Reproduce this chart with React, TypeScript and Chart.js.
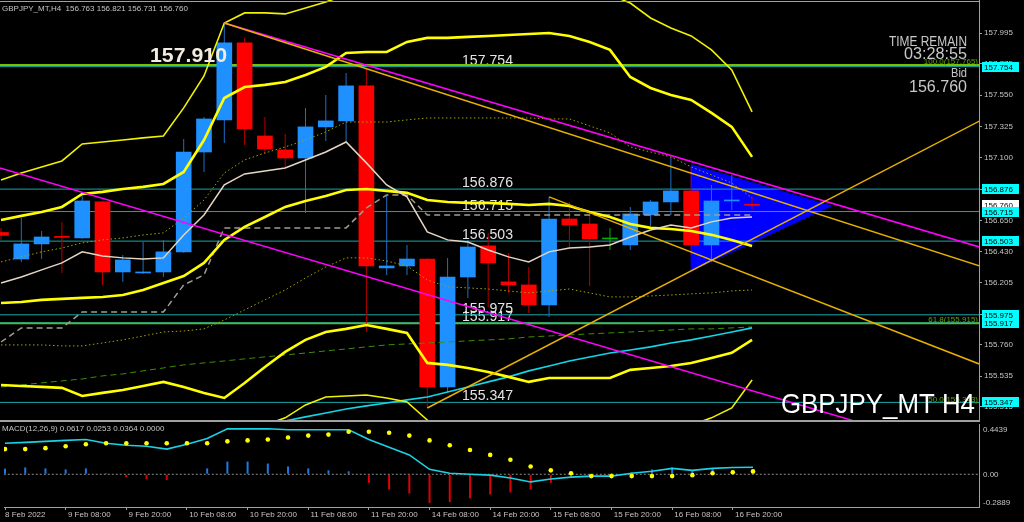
import { useEffect, useRef } from "react";
import { Chart, registerables } from "chart.js";

Chart.register(...registerables);

const FONT = "'Liberation Sans', Arial, sans-serif";

// ---------------- data ----------------
const headerText = "GBPJPY_MT,H4  156.763 156.821 156.731 156.760";
const macdHeaderText = "MACD(12,26,9) 0.0617 0.0253 0.0364 0.0000";
const symbolText = "GBPJPY_MT H4";
const timeRemainLines = ["TIME REMAIN", "03:28:55", "Bid", "156.760"];

const opens = [156.565, 156.375, 156.483, 156.533, 156.526, 156.784, 156.282, 156.275, 156.282, 156.426, 157.142, 157.372, 157.924, 157.257, 157.157, 157.099, 157.322, 157.365, 157.616, 156.311, 156.325, 156.375, 155.458, 156.246, 156.469, 156.211, 156.189, 156.046, 156.662, 156.626, 156.519, 156.476, 156.691, 156.784, 156.863, 156.476, 156.791, 156.763];
const highs = [156.598, 156.669, 156.576, 156.641, 156.827, 156.790, 156.404, 156.497, 156.512, 157.236, 157.393, 158.067, 157.960, 157.393, 157.271, 157.458, 157.551, 157.709, 157.745, 156.834, 156.476, 156.380, 156.383, 156.512, 156.562, 156.418, 156.318, 156.820, 156.784, 156.691, 156.598, 156.748, 156.798, 157.107, 157.035, 156.906, 156.978, 156.821];
const lows = [156.512, 156.354, 156.375, 156.275, 156.520, 156.189, 156.211, 156.268, 156.246, 156.420, 156.999, 157.207, 157.193, 157.128, 157.028, 156.705, 157.221, 157.214, 155.852, 156.261, 156.261, 155.307, 155.422, 156.096, 156.031, 156.132, 155.988, 155.960, 156.461, 156.182, 156.440, 156.440, 156.612, 156.691, 156.404, 156.354, 156.727, 156.731];
const closes = [156.544, 156.483, 156.533, 156.530, 156.791, 156.282, 156.368, 156.282, 156.426, 157.142, 157.379, 157.924, 157.307, 157.164, 157.099, 157.322, 157.365, 157.616, 156.325, 156.325, 156.375, 155.458, 156.246, 156.461, 156.347, 156.189, 156.046, 156.662, 156.619, 156.519, 156.519, 156.698, 156.784, 156.863, 156.476, 156.791, 156.798, 156.760];

const bandOuterUpper = [156.942, 156.992, 157.035, 157.078, 157.200, 157.214, 157.228, 157.243, 157.257, 157.458, 157.687, 158.067, 158.139, 158.139, 158.132, 158.175, 158.218, 158.268, 158.340, 158.411, 158.447, 158.483, 158.504, 158.519, 158.519, 158.519, 158.504, 158.483, 158.411, 158.340, 158.268, 158.210, 158.103, 158.031, 157.974, 157.874, 157.730, 157.429];
const bandUpper = [156.655, 156.684, 156.712, 156.748, 156.841, 156.856, 156.877, 156.892, 156.913, 156.999, 157.228, 157.529, 157.608, 157.623, 157.644, 157.694, 157.752, 157.852, 157.859, 157.859, 157.931, 157.960, 157.960, 157.967, 157.974, 157.981, 157.988, 157.995, 157.974, 157.931, 157.874, 157.680, 157.601, 157.551, 157.515, 157.422, 157.322, 157.107];
const bandMiddle = [156.060, 156.067, 156.082, 156.089, 156.096, 156.103, 156.117, 156.153, 156.203, 156.253, 156.347, 156.512, 156.605, 156.676, 156.748, 156.791, 156.827, 156.870, 156.877, 156.863, 156.849, 156.798, 156.784, 156.777, 156.777, 156.770, 156.762, 156.770, 156.755, 156.712, 156.676, 156.626, 156.598, 156.590, 156.576, 156.548, 156.512, 156.469];
const bandLower = [155.472, 155.465, 155.458, 155.451, 155.393, 155.415, 155.436, 155.465, 155.494, 155.458, 155.415, 155.379, 155.486, 155.601, 155.709, 155.795, 155.852, 155.874, 155.902, 155.874, 155.845, 155.630, 155.616, 155.594, 155.565, 155.530, 155.494, 155.522, 155.522, 155.522, 155.522, 155.580, 155.594, 155.608, 155.630, 155.666, 155.702, 155.795];
const bandOuterLower = [155.006, 155.006, 155.006, 155.006, 154.999, 155.006, 155.013, 155.020, 155.035, 155.042, 155.056, 155.078, 155.150, 155.185, 155.236, 155.329, 155.386, 155.393, 155.400, 155.379, 155.350, 155.221, 155.078, 154.970, 154.934, 154.899, 154.899, 154.920, 154.934, 154.970, 155.006, 155.042, 155.078, 155.135, 155.185, 155.236, 155.307, 155.508];
const fastMa = [156.203, 156.246, 156.297, 156.347, 156.426, 156.397, 156.383, 156.375, 156.383, 156.547, 156.691, 156.906, 156.985, 157.006, 157.028, 157.085, 157.142, 157.214, 157.064, 156.906, 156.820, 156.569, 156.512, 156.497, 156.440, 156.390, 156.354, 156.426, 156.454, 156.461, 156.476, 156.533, 156.583, 156.619, 156.598, 156.641, 156.669, 156.676];
const dottedUpper = [156.354, 156.390, 156.426, 156.454, 156.490, 156.512, 156.526, 156.547, 156.562, 156.669, 156.798, 156.992, 157.085, 157.135, 157.178, 157.228, 157.286, 157.357, 157.357, 157.357, 157.372, 157.386, 157.386, 157.386, 157.386, 157.386, 157.386, 157.379, 157.379, 157.329, 157.279, 157.178, 157.142, 157.107, 157.035, 156.978, 156.920, 156.813];
const dottedLower = [155.759, 155.759, 155.759, 155.752, 155.752, 155.773, 155.795, 155.823, 155.852, 155.859, 155.874, 155.938, 156.010, 156.082, 156.153, 156.239, 156.318, 156.383, 156.383, 156.361, 156.325, 156.225, 156.175, 156.168, 156.160, 156.146, 156.132, 156.146, 156.160, 156.132, 156.103, 156.103, 156.110, 156.117, 156.125, 156.132, 156.146, 156.153];
const stepLine = [155.780, 155.881, 155.881, 155.881, 155.995, 155.995, 155.995, 155.995, 155.995, 156.189, 156.261, 156.598, 156.598, 156.598, 156.598, 156.598, 156.598, 156.598, 156.741, 156.834, 156.834, 156.691, 156.691, 156.691, 156.691, 156.691, 156.691, 156.691, 156.691, 156.691, 156.691, 156.691, 156.691, 156.691, 156.691, 156.691, 156.691, 156.691];
const slowMa = [155.458, 155.472, 155.487, 155.501, 155.515, 155.537, 155.551, 155.573, 155.594, 155.616, 155.630, 155.644, 155.659, 155.673, 155.687, 155.701, 155.716, 155.730, 155.745, 155.759, 155.766, 155.773, 155.780, 155.788, 155.795, 155.802, 155.816, 155.823, 155.831, 155.838, 155.845, 155.852, 155.859, 155.866, 155.874, 155.874, 155.881, 155.888];
const cyanMa = [154.863, 154.884, 154.906, 154.927, 154.949, 154.970, 154.992, 155.013, 155.035, 155.056, 155.099, 155.128, 155.157, 155.185, 155.214, 155.243, 155.271, 155.300, 155.322, 155.343, 155.365, 155.386, 155.422, 155.458, 155.494, 155.530, 155.573, 155.608, 155.644, 155.673, 155.701, 155.723, 155.745, 155.773, 155.795, 155.823, 155.852, 155.881];

// trend lines: [bar, price] anchor pairs
const magentaUpperX = [11, 48.2];
const magentaUpperY = [158.067, 156.461];
const magentaLowerX = [-0.05, 48.2];
const magentaLowerY = [157.027, 154.948];
const orangeUpperX = [11, 48.2];
const orangeUpperY = [158.067, 156.325];
const orangeLowerX = [27, 48.2];
const orangeLowerY = [156.820, 155.622];
const orangeRiseX = [21, 48.2];
const orangeRiseY = [155.307, 157.364];
const triangleX = [34, 40.9, 34, 34];
const triangleY = [157.05, 156.755, 156.29, 157.05];

const cyanLevels = [157.754, 156.876, 156.715, 156.503, 155.975, 155.917, 155.347];
const fibLineLevels = [157.765, 155.915];
const fibLabelLevels = [157.765, 155.915, 155.343];
const fibLabels = ["100.0(157.765)", "61.8(155.915)", "50.0(155.343)"];
const bidPrice = 156.76;
const highMark = 157.91;

const priceTicks = [157.995, 157.775, 157.55, 157.325, 157.1, 156.875, 156.65, 156.43, 156.205, 155.98, 155.76, 155.535, 155.315];
const xTickBars = [0, 3, 6, 9, 12, 15, 18, 21, 24, 27, 30, 33, 36];
const xTickLabels = ["8 Feb 2022", "9 Feb 08:00", "9 Feb 20:00", "10 Feb 08:00", "10 Feb 20:00", "11 Feb 08:00", "11 Feb 20:00", "14 Feb 08:00", "14 Feb 20:00", "15 Feb 08:00", "15 Feb 20:00", "16 Feb 08:00", "16 Feb 20:00"];

const macdMain = [0.2735, 0.2820, 0.2905, 0.2990, 0.3076, 0.2735, 0.2564, 0.2479, 0.2224, 0.2650, 0.3161, 0.4013, 0.4013, 0.4013, 0.3928, 0.3928, 0.3928, 0.3928, 0.3076, 0.2394, 0.1712, 0.0434, 0.0093, 0.0008, -0.0077, -0.0333, -0.0674, -0.0418, -0.0248, -0.0162, -0.0162, 0.0093, 0.0264, 0.0519, 0.0349, 0.0519, 0.0605, 0.0617];
const macdSignal = [0.2224, 0.2224, 0.2309, 0.2479, 0.2650, 0.2735, 0.2735, 0.2735, 0.2735, 0.2735, 0.2735, 0.2905, 0.2990, 0.3076, 0.3246, 0.3416, 0.3502, 0.3757, 0.3757, 0.3672, 0.3416, 0.2990, 0.2564, 0.2138, 0.1712, 0.1286, 0.0690, 0.0349, 0.0093, -0.0162, -0.0162, -0.0162, -0.0162, -0.0162, -0.0077, 0.0093, 0.0178, 0.0253];
const macdHist = [0.05, 0.0605, 0.052, 0.043, 0.052, 0.009, -0.025, -0.042, -0.05, -0.003, 0.052, 0.112, 0.112, 0.095, 0.069, 0.052, 0.035, 0.026, -0.076, -0.135, -0.17, -0.255, -0.246, -0.212, -0.178, -0.161, -0.135, -0.076, -0.033, -0.003, 0.009, 0.018, 0.043, 0.06, 0.035, 0.052, 0.035, 0.0364];
const macdTicks = [0.4439, 0, -0.2889];
const macdTickLabels = ["0.4439", "0.00", "-0.2889"];

// ---------------- ranges & styles ----------------
const X_MIN = -0.05;
const X_MAX = 48.18;
const P_MIN = 155.2208;
const P_MAX = 158.2316;
const M_MIN = -0.2889;
const M_MAX = 0.4439;
const AXIS_W = 45;

const BULL = "#1e90ff";
const BEAR = "#ff0000";
const DOJI = "#00b000";
const BULL_WICK = "#1f6fc4";
const BEAR_WICK = "#b40000";
const GRID = "#a0a0a0";
const LABEL = "#c4c4c4";

const barIdx = opens.map((_, i) => i);
const series = (vals: number[]) => vals.map((y, i) => ({ x: i, y }));
const pairs = (xs: number[], ys: number[]) => xs.map((x, i) => ({ x, y: ys[i] }));
const flat = (v: number) => [{ x: X_MIN - 1, y: v }, { x: X_MAX + 1, y: v }];
const bodyColor = (i: number) => (closes[i] > opens[i] ? BULL : closes[i] < opens[i] ? BEAR : DOJI);
const wickColor = (i: number) => (closes[i] > opens[i] ? BULL_WICK : closes[i] < opens[i] ? BEAR_WICK : DOJI);

function line(data: any[], color: string, width: number, order: number, dash: number[] = []) {
  return { type: "line", data, borderColor: color, borderWidth: width, borderDash: dash, pointRadius: 0, fill: false, tension: 0, order };
}

function lockX(s: any) {
  s.min = X_MIN;
  s.max = X_MAX;
}

function drawText(ctx: CanvasRenderingContext2D, text: string, x: number, y: number, size: number, color: string,
  align: "left" | "right" = "left", fitWidth = 0, weight = "normal", baseline: CanvasTextBaseline = "alphabetic") {
  ctx.save();
  ctx.font = `${weight} ${size}px ${FONT}`;
  ctx.fillStyle = color;
  ctx.textBaseline = baseline;
  ctx.textAlign = "left";
  const w = ctx.measureText(text).width;
  const sx = fitWidth > 0 ? fitWidth / w : 1;
  const left = align === "left" ? x : x - w * sx;
  ctx.translate(left, y);
  ctx.scale(sx, 1);
  ctx.fillText(text, 0, 0);
  ctx.restore();
}

const mainPlugin = {
  id: "mtMain",
  beforeDraw(chart: any) {
    const { ctx, width, height } = chart;
    ctx.save();
    ctx.fillStyle = "#000";
    ctx.fillRect(0, 0, width, height);
    ctx.restore();
  },
  beforeDatasetsDraw(chart: any) {
    const ctx = chart.ctx;
    const ys = chart.scales.y;
    cyanLevels.forEach((lv) => {
      drawText(ctx, lv.toFixed(3), 462, ys.getPixelForValue(lv) - 2, 15, "#e4e4e4", "left", 51);
    });
  },
  afterDatasetsDraw(chart: any) {
    const ctx = chart.ctx;
    const ys = chart.scales.y;
    drawText(ctx, highMark.toFixed(3), 150, ys.getPixelForValue(highMark) + 17, 21, "#f3ebe0", "left", 77, "bold");
    fibLabelLevels.forEach((lv, i) => {
      drawText(ctx, fibLabels[i], 978, ys.getPixelForValue(lv) - 1, 8, "#5da800", "right");
    });
    drawText(ctx, timeRemainLines[0], 967, 46, 15, "#c8c8c8", "right", 78);
    drawText(ctx, timeRemainLines[1], 967, 59, 16, "#c8c8c8", "right", 63);
    drawText(ctx, timeRemainLines[2], 967, 77, 13, "#c8c8c8", "right", 16);
    drawText(ctx, timeRemainLines[3], 967, 92, 16, "#c8c8c8", "right", 58);
    drawText(ctx, symbolText, 781, 413, 28, "#ffffff", "left", 194);
  },
  afterDraw(chart: any) {
    const ctx = chart.ctx;
    const ys = chart.scales.y;
    const right = chart.chartArea.right;
    ctx.save();
    ctx.fillStyle = GRID;
    ctx.fillRect(0, 1, right, 1);
    ctx.restore();
    drawText(ctx, headerText, 2, 11, 8, LABEL, "left");
    const tag = (v: number, bg: string) => {
      const cy = Math.round(ys.getPixelForValue(v));
      ctx.save();
      ctx.fillStyle = bg;
      ctx.fillRect(982, cy - 5, 37, 10);
      ctx.restore();
      drawText(ctx, v.toFixed(3), 984, cy + 0.5, 8, "#000", "left", 0, "normal", "middle");
    };
    tag(bidPrice, "#ffffff");
    cyanLevels.forEach((lv) => tag(lv, "#00ffff"));
  },
};

const macdPlugin = {
  id: "mtMacd",
  beforeDraw(chart: any) {
    const { ctx, width, height } = chart;
    ctx.save();
    ctx.fillStyle = "#000";
    ctx.fillRect(0, 0, width, height);
    ctx.restore();
  },
  afterDraw(chart: any) {
    const ctx = chart.ctx;
    const ys = chart.scales.y;
    const { top, bottom, right } = chart.chartArea;
    ctx.save();
    ctx.fillStyle = GRID;
    ctx.fillRect(0, 0, right + 1, 2);
    ctx.restore();
    drawText(ctx, macdHeaderText, 2, 11, 8, LABEL, "left");
    macdTicks.forEach((v, i) => {
      const py = Math.min(Math.max(ys.getPixelForValue(v), top + 5), bottom - 5);
      drawText(ctx, macdTickLabels[i], 983, py + 0.5, 8, LABEL, "left", 0, "normal", "middle");
    });
  },
};

function buildMainConfig(): any {
  const datasets: any[] = [];
  datasets.push({
    type: "line", data: pairs(triangleX, triangleY), fill: "shape", backgroundColor: "#0000ff",
    borderColor: "#0000ff", borderWidth: 1, pointRadius: 0, tension: 0, order: 100,
  });
  fibLineLevels.forEach((lv) => datasets.push(line(flat(lv), "#78c000", 2, 92)));
  cyanLevels.forEach((lv) => datasets.push(line(flat(lv), "#19a6a6", 1, 91)));
  datasets.push({
    type: "bar", data: barIdx.map((i) => ({ x: i, y: [lows[i], highs[i]] })),
    backgroundColor: barIdx.map(wickColor), barThickness: 1, grouped: false, borderWidth: 0,
    inflateAmount: 0, minBarLength: 1, order: 80,
  });
  datasets.push({
    type: "bar", data: barIdx.map((i) => ({ x: i, y: [opens[i], closes[i]] })),
    backgroundColor: barIdx.map(bodyColor), barThickness: 15, grouped: false, borderWidth: 0,
    minBarLength: 1, order: 79,
  });
  datasets.push(line(series(slowMa), "#3f8f00", 1, 70, [6, 4]));
  datasets.push(line(series(dottedLower), "#a3a300", 1, 69, [1.5, 2.5]));
  datasets.push(line(series(dottedUpper), "#a3a300", 1, 68, [1.5, 2.5]));
  datasets.push(line(series(stepLine), "#a39a90", 1.5, 67, [6, 4]));
  datasets.push(line(series(cyanMa), "#12d6e8", 1.6, 66));
  datasets.push(line(series(bandOuterLower), "#f2f200", 1.6, 65));
  datasets.push(line(series(bandOuterUpper), "#f2f200", 1.6, 64));
  datasets.push(line(series(bandLower), "#ffff00", 2.6, 63));
  datasets.push(line(series(bandMiddle), "#ffff00", 2.6, 62));
  datasets.push(line(series(bandUpper), "#ffff00", 2.6, 61));
  datasets.push(line(series(fastMa), "#e8d6c4", 1.5, 60));
  datasets.push(line(pairs(magentaUpperX, magentaUpperY), "#ff00ff", 1.5, 52));
  datasets.push(line(pairs(magentaLowerX, magentaLowerY), "#ff00ff", 1.5, 51));
  datasets.push(line(pairs(orangeUpperX, orangeUpperY), "#e8b000", 1.5, 50));
  datasets.push(line(pairs(orangeLowerX, orangeLowerY), "#e8b000", 1.5, 49));
  datasets.push(line(pairs(orangeRiseX, orangeRiseY), "#e8b000", 1.5, 48));

  return {
    type: "line",
    data: { datasets },
    options: {
      responsive: false, maintainAspectRatio: false, animation: false, events: [],
      layout: { padding: 0 },
      plugins: { legend: { display: false }, tooltip: { enabled: false } },
      scales: {
        x: {
          type: "linear", display: false, min: X_MIN, max: X_MAX, offset: false, bounds: "data", grace: 0,
          grid: { offset: false },
          afterDataLimits: lockX, afterBuildTicks: lockX,
        },
        y: {
          type: "linear", position: "right", min: P_MIN, max: P_MAX, beginAtZero: false, offset: false,
          afterBuildTicks: (s: any) => { s.ticks = priceTicks.map((v) => ({ value: v })); s.min = P_MIN; s.max = P_MAX; },
          afterFit: (s: any) => { s.width = AXIS_W; s.paddingTop = 0; s.paddingBottom = 0; },
          ticks: { color: LABEL, font: { family: FONT, size: 8 }, padding: 2, autoSkip: false, callback: (v: any) => Number(v).toFixed(3) },
          grid: { drawOnChartArea: false, drawTicks: true, tickLength: 3, color: GRID },
          border: { display: true, color: GRID },
        },
      },
    },
    plugins: [mainPlugin],
  };
}

function buildMacdConfig(): any {
  return {
    type: "line",
    data: {
      datasets: [
        line(flat(0), "#8c8c8c", 1, 10, [2, 2]),
        {
          type: "bar", data: series(macdHist), backgroundColor: macdHist.map((v) => (v >= 0 ? "#1e78e6" : "#e00000")),
          barThickness: 2, grouped: false, borderWidth: 0, inflateAmount: 0, order: 9,
        },
        line(series(macdMain), "#1ad2e4", 1.6, 8),
        {
          type: "line", data: series(macdSignal), showLine: false, pointRadius: 2.3, pointBorderWidth: 0,
          pointBackgroundColor: "#ffff00", order: 7,
        },
      ],
    },
    options: {
      responsive: false, maintainAspectRatio: false, animation: false, events: [],
      layout: { padding: { top: 2, left: 0, right: 0, bottom: 0 } },
      plugins: { legend: { display: false }, tooltip: { enabled: false } },
      scales: {
        x: {
          type: "linear", position: "bottom", min: X_MIN, max: X_MAX, offset: false, bounds: "data", grace: 0,
          afterDataLimits: lockX,
          afterBuildTicks: (s: any) => { s.ticks = xTickBars.map((v) => ({ value: v })); lockX(s); },
          afterFit: (s: any) => { s.height = 15; s.paddingLeft = 0; s.paddingRight = 0; },
          ticks: {
            color: LABEL, font: { family: FONT, size: 8 }, padding: 0, autoSkip: false, maxRotation: 0, minRotation: 0,
            align: "start", callback: (_v: any, i: number) => (i === 0 ? "" : " ") + xTickLabels[i],
          },
          grid: { drawOnChartArea: false, drawTicks: true, tickLength: 3, color: GRID, offset: false },
          border: { display: true, color: GRID },
        },
        y: {
          type: "linear", position: "right", min: M_MIN, max: M_MAX, beginAtZero: false, offset: false,
          afterFit: (s: any) => { s.width = AXIS_W; s.paddingTop = 0; s.paddingBottom = 0; },
          ticks: { display: false },
          grid: { drawOnChartArea: false, drawTicks: false, color: GRID },
          border: { display: true, color: GRID },
        },
      },
    },
    plugins: [macdPlugin],
  };
}

export default function App() {
  const mainRef = useRef<HTMLCanvasElement>(null);
  const macdRef = useRef<HTMLCanvasElement>(null);

  useEffect(() => {
    document.body.style.margin = "0";
    document.body.style.background = "#000";
    const main = new Chart(mainRef.current as HTMLCanvasElement, buildMainConfig());
    const macd = new Chart(macdRef.current as HTMLCanvasElement, buildMacdConfig());
    return () => {
      main.destroy();
      macd.destroy();
    };
  }, []);

  return (
    <div style={{ position: "relative", width: 1024, height: 522, background: "#000", overflow: "hidden" }}>
      <canvas ref={mainRef} width={1024} height={420} style={{ position: "absolute", left: 0, top: 0, width: 1024, height: 420 }} />
      <canvas ref={macdRef} width={1024} height={102} style={{ position: "absolute", left: 0, top: 420, width: 1024, height: 102 }} />
    </div>
  );
}
